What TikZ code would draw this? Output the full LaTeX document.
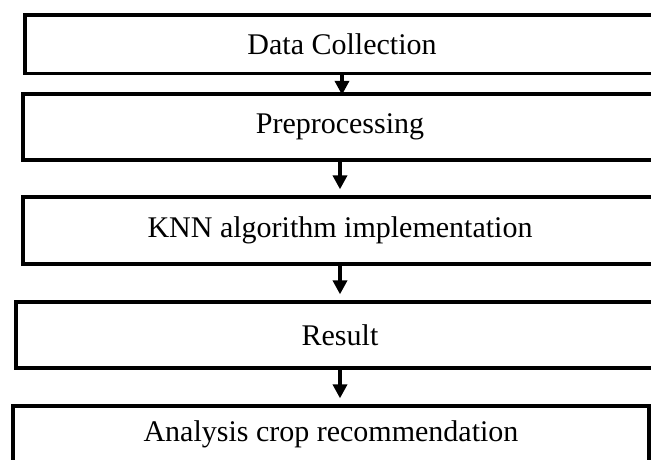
\documentclass[tikz,border=0pt]{standalone}
\usepackage{fontspec}
\setmainfont{Liberation Serif}
\usetikzlibrary{arrows.meta}

\begin{document}
\begin{tikzpicture}[x=1pt,y=-1pt,
    stepbox/.style={draw,line width=3.3pt,rectangle,inner sep=0pt,
        font=\fontsize{30}{35}\selectfont},
    flowarrow/.style={line width=3.6pt,-{Triangle[width=14pt,length=14pt]}}]
    \useasboundingbox (0,0) rectangle (651,459);
    \clip (0,0) rectangle (651,459);

    % Box: data collection
    \node [stepbox,minimum width=634pt,minimum height=58.5pt] (collect) at (342,44.2) {Data Collection};%

    % Box: preprocessing
    \node [stepbox,minimum width=634pt,minimum height=66pt] (prep) at (340,127) {Preprocessing};%

    % Box: KNN
    \node [stepbox,minimum width=634pt,minimum height=67pt] (knn) at (340,230.5) {KNN algorithm implementation};%

    % Box: result
    \node [stepbox,minimum width=648pt,minimum height=66pt] (result) at (340,335) {Result};%

    % Box: analysis (runs past the lower edge)
    \node [stepbox,minimum width=636pt,minimum height=56pt] (analysis) at (331,434) {Analysis crop recommendation};%

    % Arrows between the steps (first head sinks into the border)
    \draw [flowarrow,shorten >=-2.5pt] (collect.south) -- (collect.south |- prep.north);%
    \draw [flowarrow,shorten >=6pt] (prep.south) -- (knn.north);%
    \draw [flowarrow,shorten >=6pt] (knn.south) -- (result.north);%
    \draw [flowarrow,shorten >=6pt] (result.south) -- (result.south |- analysis.north);%
\end{tikzpicture}
\end{document}
